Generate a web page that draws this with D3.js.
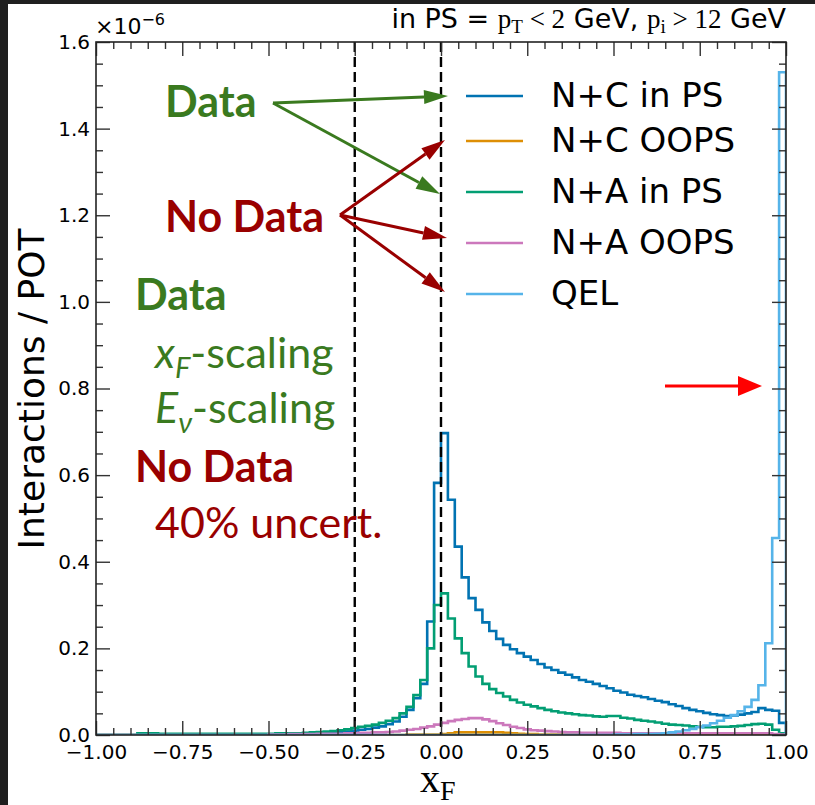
<!DOCTYPE html>
<html>
<head>
<meta charset="utf-8">
<script src="https://cdn.jsdelivr.net/npm/d3@7"></script>
<style>
  html, body { margin: 0; padding: 0; background: #1f1f1f; }
  svg { display: block; }
</style>
</head>
<body>
<svg id="chart" width="815" height="805"></svg>
<script>
// histogram bins: 100 bins of width 0.02 from -1 to 1 (values in 1e-6 interactions / POT)
var binStart = -1, binWidth = 0.02;

var ncInPS = [
  0,0,0,0,0,0,0,0,0,0, 0,0,0,0,0,0,0,0,0,0, 0,0,0,0,0.001,0.001,0.001,0.001,0.001,0.002,
  0.002,0.003,0.003,0.004,0.005,0.006,0.008,0.010,0.012,0.014, 0.017,0.020,0.025,0.031,0.042,0.058,0.085,0.118,0.262,0.582,
  0.697,0.543,0.435,0.364,0.316,0.289,0.260,0.240,0.222,0.208, 0.198,0.189,0.181,0.173,0.164,0.156,0.150,0.144,0.139,0.133,
  0.127,0.123,0.118,0.113,0.108,0.102,0.098,0.093,0.090,0.087, 0.083,0.079,0.076,0.071,0.067,0.062,0.058,0.055,0.051,0.048,
  0.046,0.044,0.045,0.047,0.050,0.053,0.062,0.058,0.056,0.028
];
var ncOOPS = [
  0,0,0,0,0,0,0,0,0,0, 0,0,0,0,0,0,0,0,0,0, 0,0,0,0,0,0,0,0,0,0,
  0,0,0,0,0,0,0,0,0,0, 0,0,0,0,0,0.001,0.001,0.001,0.001,0.001,
  0.002,0.004,0.006,0.006,0.006,0.006,0.006,0.006,0.006,0.005, 0.004,0.003,0.002,0.002,0.001,0.001,0.001,0.001,0.001,0.001,
  0.001,0,0,0,0,0,0,0,0,0, 0,0,0,0,0,0,0,0,0,0,
  0,0,0,0,0,0,0,0,0,0
];
var naInPS = [
  0,0,0,0,0,0,0.004,0.004,0.004,0.003, 0.003,0.003,0.003,0.003,0.003,0.003,0.003,0.003,0.003,0.003, 0.003,0.003,0.003,0.003,0.003,0.003,0.004,0.004,0.004,0.004,
  0.005,0.006,0.007,0.008,0.009,0.011,0.013,0.016,0.019,0.021, 0.024,0.028,0.033,0.039,0.050,0.065,0.092,0.127,0.200,0.300,
  0.327,0.269,0.223,0.189,0.158,0.135,0.118,0.106,0.097,0.089, 0.081,0.075,0.070,0.066,0.062,0.058,0.055,0.052,0.050,0.048,
  0.046,0.045,0.043,0.042,0.044,0.044,0.040,0.038,0.035,0.033, 0.031,0.029,0.026,0.024,0.023,0.022,0.020,0.019,0.018,0.018,
  0.019,0.019,0.020,0.021,0.023,0.025,0.026,0.024,0.012,0.004
];
var naOOPS = [
  0,0,0,0,0,0,0,0,0,0, 0,0,0,0,0,0,0,0,0,0, 0,0,0,0,0,0.001,0.001,0.001,0.002,0.002,
  0.002,0.002,0.003,0.003,0.003,0.003,0.004,0.004,0.005,0.005, 0.006,0.006,0.007,0.008,0.010,0.012,0.014,0.017,0.020,0.024,
  0.028,0.032,0.035,0.037,0.039,0.039,0.036,0.032,0.027,0.023, 0.019,0.016,0.013,0.011,0.010,0.009,0.008,0.007,0.006,0.006,
  0.005,0.005,0.005,0.005,0.005,0.005,0.004,0.004,0.004,0.004, 0.004,0.004,0.004,0.004,0.004,0.004,0.004,0.004,0.004,0.004,
  0.004,0.004,0.004,0.004,0.004,0.004,0.004,0.004,0.002,0.001
];
var qel = [
  0,0,0,0,0,0,0,0,0,0, 0,0,0,0,0,0,0,0,0,0, 0,0,0,0,0,0,0,0,0,0,
  0,0,0,0,0,0,0,0,0,0, 0,0,0,0,0,0,0,0,0,0,
  0,0,0,0,0,0,0,0,0,0, 0,0,0,0,0,0,0,0,0,0,
  0,0,0,0,0,0.001,0.001,0.001,0.002,0.002, 0.002,0.003,0.004,0.006,0.008,0.011,0.014,0.018,0.022,0.027,
  0.033,0.040,0.046,0.055,0.065,0.081,0.115,0.212,0.455,1.530
];

var seriesNames = ["N+C in PS", "N+C OOPS", "N+A in PS", "N+A OOPS", "QEL"];
var seriesValues = [ncInPS, ncOOPS, naInPS, naOOPS, qel];
var seriesColors = ["#0173b2", "#de8f05", "#029e73", "#cc78bc", "#56b4e9"];

var xMajorTicks = [-1, -0.75, -0.5, -0.25, 0, 0.25, 0.5, 0.75, 1];
var yMajorTicks = [0, 0.2, 0.4, 0.6, 0.8, 1.0, 1.2, 1.4, 1.6];
var cutLines = [-0.25, 0];

var svg = d3.select("#chart");
var W = 815, H = 805;
var pLeft = 96, pRight = 786, pTop = 42, pBottom = 735;

// page: dark frame with white figure
svg.append("rect").attr("width", W).attr("height", H).attr("fill", "#1f1f1f");
svg.append("rect").attr("x", 8).attr("y", 4).attr("width", W - 8).attr("height", H - 4).attr("fill", "#fff");

var x = d3.scaleLinear().domain([-1, 1]).range([pLeft, pRight]);
var y = d3.scaleLinear().domain([0, 1.6]).range([pBottom, pTop]);

svg.append("clipPath").attr("id", "plotclip")
  .append("rect").attr("x", pLeft).attr("y", pTop - 2).attr("width", pRight - pLeft).attr("height", pBottom - pTop + 2);

// step histograms, drawn in the same order as matplotlib
var line = d3.line().x(function(d) { return d[0]; }).y(function(d) { return d[1]; });
var plot = svg.append("g").attr("clip-path", "url(#plotclip)");

seriesValues.forEach(function(vals, k) {
  var pts = [[x(binStart), y(0)]];
  vals.forEach(function(v, i) {
    pts.push([x(binStart + i * binWidth), y(v)]);
    pts.push([x(binStart + (i + 1) * binWidth), y(v)]);
  });
  pts.push([x(binStart + vals.length * binWidth), y(0)]);
  plot.append("path")
    .attr("d", line(pts))
    .attr("fill", "none")
    .attr("stroke", seriesColors[k])
    .attr("stroke-width", 2.6)
    .attr("stroke-linejoin", "miter");
});

// dashed cut lines
svg.selectAll(".cut").data(cutLines).enter().append("line")
  .attr("x1", function(d) { return x(d); })
  .attr("x2", function(d) { return x(d); })
  .attr("y1", pTop).attr("y2", pBottom)
  .attr("stroke", "#000").attr("stroke-width", 2.4)
  .attr("stroke-dasharray", "10,5");

// axes: inward ticks on all four sides
var xMinor = d3.range(-1, 1.0001, 0.05).filter(function(v) { return Math.abs(v * 4 - Math.round(v * 4)) > 1e-6; });
var yMinor = d3.range(0, 1.6001, 0.05).filter(function(v) { return Math.abs(v * 5 - Math.round(v * 5)) > 1e-6; });

function styleAxis(g) {
  g.select(".domain").remove();
  g.selectAll(".tick line").attr("stroke", "#333").attr("stroke-width", 1.4);
  g.selectAll("text").attr("font-family", "DejaVu Sans").attr("font-size", 20).attr("fill", "#000");
}

svg.append("g").attr("transform", "translate(0," + pBottom + ")")
  .call(d3.axisBottom(x).tickValues(xMajorTicks).tickSize(-14).tickPadding(10).tickFormat(d3.format(".2f")))
  .call(styleAxis);
svg.append("g").attr("transform", "translate(0," + pBottom + ")")
  .call(d3.axisBottom(x).tickValues(xMinor).tickSize(-7).tickFormat(""))
  .call(styleAxis);
svg.append("g").attr("transform", "translate(0," + pTop + ")")
  .call(d3.axisTop(x).tickValues(xMajorTicks).tickSize(-14).tickFormat(""))
  .call(styleAxis);
svg.append("g").attr("transform", "translate(0," + pTop + ")")
  .call(d3.axisTop(x).tickValues(xMinor).tickSize(-7).tickFormat(""))
  .call(styleAxis);

svg.append("g").attr("transform", "translate(" + pLeft + ",0)")
  .call(d3.axisLeft(y).tickValues(yMajorTicks).tickSize(-14).tickPadding(6).tickFormat(d3.format(".1f")))
  .call(styleAxis);
svg.append("g").attr("transform", "translate(" + pLeft + ",0)")
  .call(d3.axisLeft(y).tickValues(yMinor).tickSize(-7).tickFormat(""))
  .call(styleAxis);
svg.append("g").attr("transform", "translate(" + pRight + ",0)")
  .call(d3.axisRight(y).tickValues(yMajorTicks).tickSize(-14).tickFormat(""))
  .call(styleAxis);
svg.append("g").attr("transform", "translate(" + pRight + ",0)")
  .call(d3.axisRight(y).tickValues(yMinor).tickSize(-7).tickFormat(""))
  .call(styleAxis);

// frame
svg.append("rect")
  .attr("x", pLeft).attr("y", pTop).attr("width", pRight - pLeft).attr("height", pBottom - pTop)
  .attr("fill", "none").attr("stroke", "#222").attr("stroke-width", 1.6);

// offset text
var off = svg.append("text").attr("x", pLeft - 1).attr("y", 34)
  .attr("font-family", "DejaVu Sans").attr("font-size", 22);
off.append("tspan").text("×10");
off.append("tspan").attr("dy", -9).attr("font-size", 16).text("−6");

// axis labels
svg.append("text")
  .attr("transform", "translate(44,389) rotate(-90)")
  .attr("text-anchor", "middle")
  .attr("font-family", "DejaVu Sans").attr("font-size", 36)
  .text("Interactions / POT");

var xl = svg.append("text").attr("x", 420).attr("y", 792)
  .attr("font-family", "Liberation Serif").attr("font-size", 40);
xl.append("tspan").text("x");
xl.append("tspan").attr("dy", 8).attr("font-size", 28).text("F");

// title
var sans = "DejaVu Sans", serif = "Liberation Serif";
var title = svg.append("text").attr("x", pRight).attr("y", 28)
  .attr("text-anchor", "end").attr("font-size", 27);
[
  { t: "in PS = ", f: sans },
  { t: "p", f: serif },
  { t: "T", f: serif, sub: true },
  { t: " < 2", f: serif, back: true },
  { t: " GeV, ", f: sans },
  { t: "p", f: serif },
  { t: "i", f: serif, sub: true },
  { t: " > 12", f: serif, back: true },
  { t: " GeV", f: sans }
].forEach(function(p) {
  var ts = title.append("tspan").attr("font-family", p.f).text(p.t);
  if (p.sub) ts.attr("font-size", 19).attr("dy", 5);
  if (p.back) ts.attr("dy", -5);
});

// legend
var legend = svg.append("g");
var legendY = [96, 141, 192, 243, 294];
seriesNames.forEach(function(name, i) {
  legend.append("line")
    .attr("x1", 466).attr("x2", 523)
    .attr("y1", legendY[i]).attr("y2", legendY[i])
    .attr("stroke", seriesColors[i]).attr("stroke-width", 2.6);
  legend.append("text")
    .attr("x", 551).attr("y", legendY[i] + 11)
    .attr("font-family", "DejaVu Sans").attr("font-size", 34)
    .text(name);
});

// annotations
var green = "#3a7a1f", darkRed = "#990000";

function arrow(x1, y1, x2, y2, color, headLen, headW, lw) {
  var a = Math.atan2(y2 - y1, x2 - x1);
  var bx = x2 - headLen * Math.cos(a), by = y2 - headLen * Math.sin(a);
  svg.append("line")
    .attr("x1", x1).attr("y1", y1).attr("x2", bx).attr("y2", by)
    .attr("stroke", color).attr("stroke-width", lw);
  var px = -Math.sin(a) * headW / 2, py = Math.cos(a) * headW / 2;
  svg.append("polygon")
    .attr("points", [[x2, y2], [bx + px, by + py], [bx - px, by - py]].map(function(p) { return p.join(","); }).join(" "))
    .attr("fill", color);
}

arrow(273, 103, 448, 96, green, 24, 14, 3);
arrow(273, 103, 440, 194, green, 24, 14, 3);
arrow(340, 215, 445, 140, darkRed, 24, 14, 3);
arrow(340, 215, 447, 238, darkRed, 24, 14, 3);
arrow(340, 215, 445, 292, darkRed, 24, 14, 3);
arrow(665, 386, 762, 386, "#ff0000", 24, 20, 3);

function label(txt, xx, yy, color, bold) {
  return svg.append("text").attr("x", xx).attr("y", yy)
    .attr("font-family", "Lato").attr("font-size", 43)
    .attr("font-weight", bold ? "bold" : "normal")
    .attr("fill", color).text(txt);
}
label("Data", 165, 117, green, true);
label("No Data", 165, 232, darkRed, true);
label("Data", 135, 310, green, true);
label("No Data", 135, 482, darkRed, true);
label("40% uncert.", 155, 538, darkRed, false);

var xs = svg.append("text").attr("x", 155).attr("y", 368)
  .attr("font-family", "Lato").attr("font-size", 43).attr("fill", green);
xs.append("tspan").attr("font-style", "italic").text("x");
xs.append("tspan").attr("font-style", "italic").attr("font-size", 29).attr("dy", 10).text("F");
xs.append("tspan").attr("dy", -10).text("-scaling");

var es = svg.append("text").attr("x", 155).attr("y", 423)
  .attr("font-family", "Lato").attr("font-size", 43).attr("fill", green);
es.append("tspan").attr("font-style", "italic").text("E");
es.append("tspan").attr("font-style", "italic").attr("font-size", 29).attr("dy", 10).text("ν");
es.append("tspan").attr("dy", -10).text("-scaling");
</script>
</body>
</html>
